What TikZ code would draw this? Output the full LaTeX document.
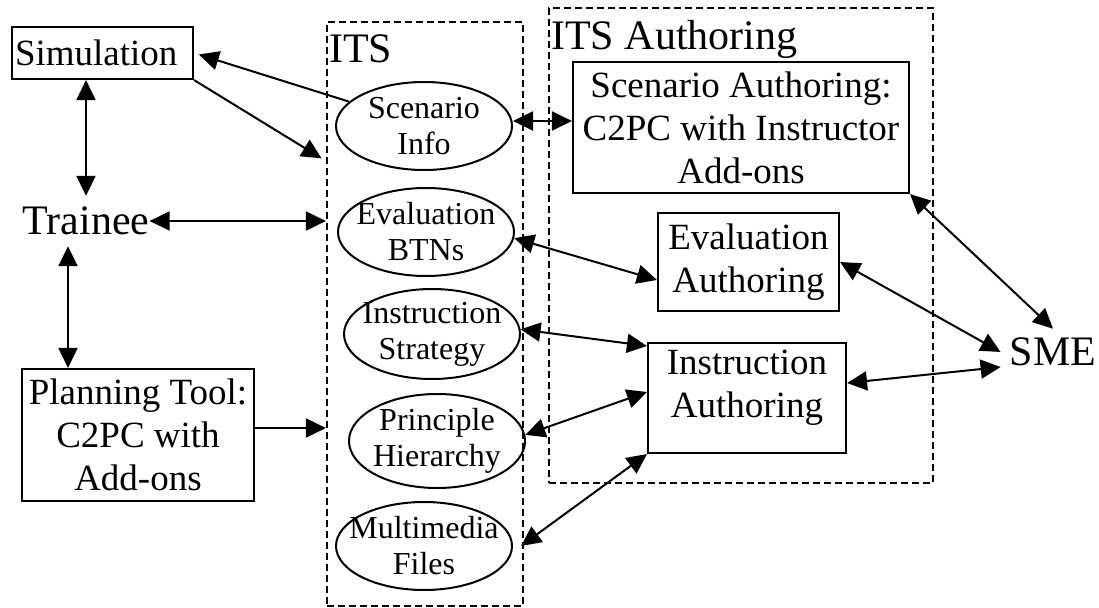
\documentclass[tikz,border=0pt]{standalone}
\usepackage{fontspec}
\setmainfont{Liberation Serif}
\usetikzlibrary{shapes.geometric,arrows.meta}
\begin{document}
\begin{tikzpicture}[x=1pt,y=-1pt,
  box/.style={draw, line width=2.1pt, rectangle, inner sep=0pt, align=center, font=\fontsize{37}{43}\selectfont},
  ell/.style={draw, line width=2pt, ellipse, inner sep=0pt, minimum width=176pt, minimum height=88pt},
  etext/.style={align=center, font=\fontsize{32}{36}\selectfont, inner sep=0pt},
  big/.style={font=\fontsize{42}{48}\selectfont, inner sep=0pt},
  grp/.style={draw, line width=2.2pt, dash pattern=on 7pt off 4pt, rectangle, inner sep=0pt},
  arr/.style={line width=2pt, {Triangle[length=20pt,width=19pt]}-{Triangle[length=20pt,width=19pt]}},
  arrone/.style={line width=2pt, -{Triangle[length=20pt,width=19pt]}},
]
\useasboundingbox (0,0) rectangle (1099,607);

% groups
\node[grp, minimum width=196pt, minimum height=584pt] (its) at (425,314) {};
\node[grp, minimum width=384pt, minimum height=475pt] (itsa) at (741,245.5) {};
\node[big, anchor=base west] (itslbl) at (329,63) {ITS};
\node[big, anchor=base west] (itsalbl) at (551,50) {ITS Authoring};

% left side
\node[box, minimum width=181pt, minimum height=52pt,
      text width=175pt, align=left] (sim) at (102.5,53) {Simulation};
\node[big, minimum height=50pt] (trainee) at (86,221) {Trainee};
\node[box, minimum width=232pt, minimum height=132pt] (planning) at (138,435) {Planning Tool:\\C2PC with\\Add-ons};

% ITS ellipses
\node[ell, label={[etext]center:Scenario\\Info}] (scen) at (424,126) {};
\node[ell, label={[etext]center:Evaluation\\BTNs}] (evalb) at (426,232) {};
\node[ell, minimum height=90pt, label={[etext]center:Instruction\\Strategy}] (instr) at (432,334) {};
\node[ell, minimum height=94pt, label={[etext]center:Principle\\Hierarchy}] (princ) at (437,441) {};
\node[ell, label={[etext]center:Multimedia\\Files}] (multi) at (424,546) {};

% authoring boxes
\node[box, minimum width=336pt, minimum height=131pt] (scenauth) at (741,127.5) {Scenario Authoring:\\C2PC with Instructor\\Add-ons};
\node[box, minimum width=181pt, minimum height=98pt] (evalauth) at (748.5,262) {Evaluation\\Authoring};
\node[box, minimum width=198pt, minimum height=110pt,
      label={[box, draw=none, yshift=10pt]center:Instruction\\Authoring}] (instrauth) at (747,398) {};
\node[big, inner sep=9pt] (sme) at (1053,352) {SME};

% connectors
\draw[arrone, shorten >=5pt] (scen.162) -- (sim.east);
\draw[arrone, shorten >=5pt] (sim.south east) -- ([yshift=153pt]its.west);
\draw[arr] (sim.south -| trainee.north) -- (trainee.north);
\draw[arr] (trainee.east) -- (trainee.east -| its.west);
\draw[arr] ([xshift=-18pt]trainee.south) -- ([xshift=-18pt]trainee.south |- planning.north);
\draw[arrone] ([yshift=7pt]planning.east) -- ([yshift=7pt]planning.east -| its.west);
\draw[arr] ([yshift=5pt]scen.east) -- ([yshift=5pt]scen.east -| scenauth.west);
\draw[arr] (evalb.-4) -- ([yshift=-18pt]evalauth.west);
\draw[arr] (instr.3) -- ([yshift=-4pt]instrauth.north west);
\draw[arr] (princ.4) -- ([yshift=6pt]instrauth.west);
\draw[arr] ([xshift=8pt]multi.east) -- (instrauth.south west);
\draw[arr] (scenauth.south east) -- (sme.north);
\draw[arr] (evalauth.east) -- (sme.west);
\draw[arr] ([yshift=15pt]instrauth.east) -- ([yshift=-15pt]sme.west);
\end{tikzpicture}
\end{document}
